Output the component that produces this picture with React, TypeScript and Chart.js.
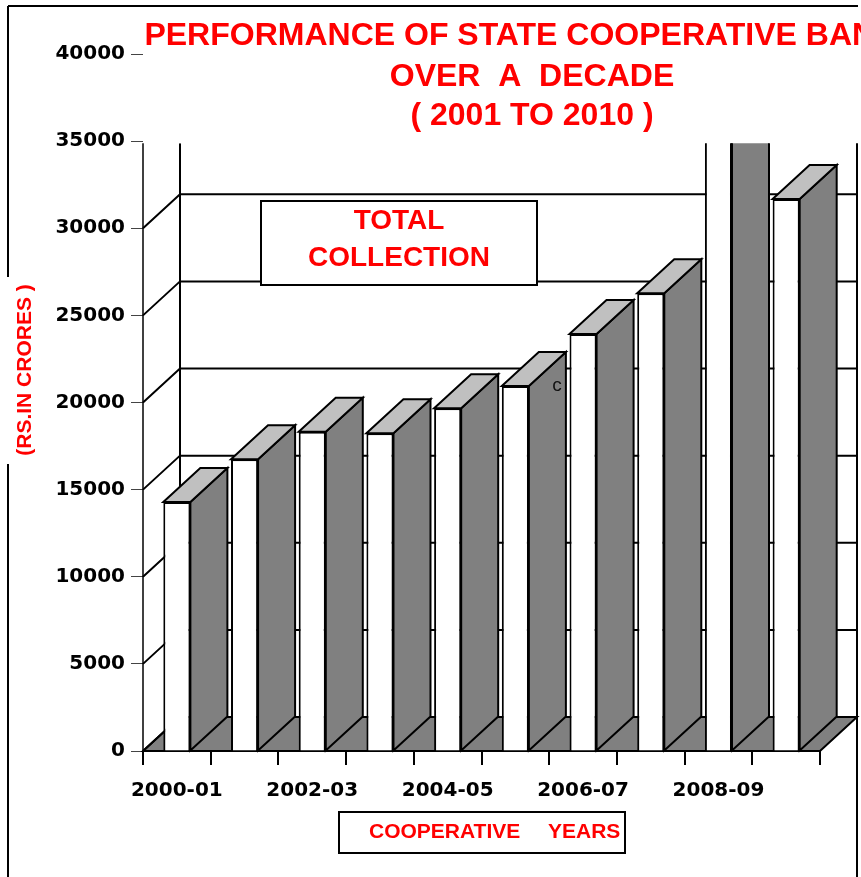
import React, { useEffect, useRef } from 'react';
import { Chart, registerables } from 'chart.js';

Chart.register(...registerables);

const YEARS = ['2000-01', '2001-02', '2002-03', '2003-04', '2004-05', '2005-06', '2006-07', '2007-08', '2008-09', '2009-10'];
const TOTAL_COLLECTION = [14290, 16740, 18325, 18230, 19665, 20950, 23930, 26265, 38900, 31680];
const Y_MIN = 0;
const Y_MAX = 40000;
const Y_STEP = 5000;
const WALL_TOP_VALUE = 35000;

const TITLE_LINES = ['PERFORMANCE OF STATE COOPERATIVE BANKS', 'OVER  A  DECADE', '( 2001 TO 2010 )'];
const BOX_LINES = ['TOTAL', 'COLLECTION'];
const Y_TITLE = '(RS.IN CRORES )';
const X_TITLE_WORDS = ['COOPERATIVE', 'YEARS'];
const STRAY_MARK = 'c';

const DX = 37;
const DY = 34;
const ARIAL = "'Liberation Sans', Arial, sans-serif";
const WIDE = "'DejaVu Sans', sans-serif";
const RED = '#FF0000';

const threeD = {
  id: 'threeD',
  beforeDatasetsDraw(chart: any) {
    const { ctx, chartArea: a, scales } = chart;
    const y = scales.y;
    const top = y.getPixelForValue(WALL_TOP_VALUE) + 2;
    const b = y.getPixelForValue(0);
    ctx.save();
    // frame
    ctx.strokeStyle = '#000';
    ctx.lineWidth = 2;
    ctx.beginPath();
    ctx.moveTo(8, 6);
    ctx.lineTo(a.right + DX + 1, 6);
    ctx.moveTo(8, 6);
    ctx.lineTo(8, 277);
    ctx.moveTo(8, 464);
    ctx.lineTo(8, chart.height);
    ctx.moveTo(a.right + DX, top);
    ctx.lineTo(a.right + DX, chart.height);
    ctx.stroke();

    ctx.beginPath();
    ctx.rect(0, top, chart.width, chart.height - top);
    ctx.clip();
    // floor
    ctx.beginPath();
    ctx.moveTo(a.left, b);
    ctx.lineTo(a.right, b);
    ctx.lineTo(a.right + DX, b - DY);
    ctx.lineTo(a.left + DX, b - DY);
    ctx.closePath();
    ctx.fillStyle = '#808080';
    ctx.fill();
    ctx.stroke();
    // wall grid
    ctx.beginPath();
    y.ticks.forEach((t: any) => {
      const py = y.getPixelForValue(t.value);
      ctx.moveTo(a.left, py);
      ctx.lineTo(a.left + DX, py - DY);
      ctx.lineTo(a.right + DX, py - DY);
    });
    ctx.moveTo(a.left + DX, top);
    ctx.lineTo(a.left + DX, b - DY);
    ctx.stroke();
    ctx.lineWidth = 1.5;
    ctx.beginPath();
    ctx.moveTo(a.left, top - 2);
    ctx.lineTo(a.left, b);
    ctx.stroke();
    ctx.restore();
  },
  beforeDatasetDraw(chart: any) {
    const { ctx, scales } = chart;
    const top = scales.y.getPixelForValue(WALL_TOP_VALUE) + 2;
    ctx.save();
    ctx.beginPath();
    ctx.rect(0, top, chart.width, chart.height - top);
    ctx.clip();
  },
  afterDatasetDraw(chart: any) {
    chart.ctx.restore();
  },
  afterDatasetsDraw(chart: any) {
    const { ctx, scales } = chart;
    const top = scales.y.getPixelForValue(WALL_TOP_VALUE) + 2;
    ctx.save();
    ctx.beginPath();
    ctx.rect(0, top, chart.width, chart.height - top);
    ctx.clip();
    ctx.strokeStyle = '#000';
    ctx.lineWidth = 2;
    ctx.lineJoin = 'miter';
    const meta = chart.getDatasetMeta(0);
    meta.data.forEach((bar: any) => {
      const { x, y: ty, base, width } = bar.getProps(['x', 'y', 'base', 'width'], true);
      const l = x - width / 2;
      const r = x + width / 2;
      ctx.beginPath();
      ctx.moveTo(r, base);
      ctx.lineTo(r, ty);
      ctx.lineTo(r + DX, ty - DY);
      ctx.lineTo(r + DX, base - DY);
      ctx.closePath();
      ctx.fillStyle = '#808080';
      ctx.fill();
      ctx.stroke();
      ctx.beginPath();
      ctx.moveTo(l, ty);
      ctx.lineTo(l + DX, ty - DY);
      ctx.lineTo(r + DX, ty - DY);
      ctx.lineTo(r, ty);
      ctx.closePath();
      ctx.fillStyle = '#C0C0C0';
      ctx.fill();
      ctx.stroke();
    });
    ctx.restore();
  },
  afterDraw(chart: any) {
    const { ctx } = chart;
    ctx.save();
    // title
    ctx.fillStyle = RED;
    ctx.textAlign = 'center';
    ctx.textBaseline = 'alphabetic';
    ctx.font = `bold 32px ${ARIAL}`;
    const baselines = [45, 86, 125];
    TITLE_LINES.forEach((t, i) => ctx.fillText(t, 532, baselines[i]));

    // TOTAL COLLECTION box
    ctx.fillStyle = '#fff';
    ctx.fillRect(261, 201, 276, 84);
    ctx.strokeStyle = '#000';
    ctx.lineWidth = 2;
    ctx.strokeRect(261, 201, 276, 84);
    ctx.fillStyle = RED;
    ctx.font = `bold 28px ${ARIAL}`;
    ctx.fillText(BOX_LINES[0], 399, 229);
    ctx.fillText(BOX_LINES[1], 399, 266);

    // x title box
    ctx.fillStyle = '#fff';
    ctx.fillRect(339, 812, 286, 41);
    ctx.strokeRect(339, 812, 286, 41);
    ctx.fillStyle = RED;
    ctx.font = `bold 21px ${ARIAL}`;
    ctx.textAlign = 'left';
    ctx.fillText(X_TITLE_WORDS[0], 369, 838);
    ctx.fillText(X_TITLE_WORDS[1], 548, 838);

    // y title
    ctx.save();
    ctx.translate(25, 370);
    ctx.rotate(-Math.PI / 2);
    ctx.textAlign = 'center';
    ctx.textBaseline = 'middle';
    ctx.font = `bold 21px ${ARIAL}`;
    ctx.fillText(Y_TITLE, 0, 0);
    ctx.restore();

    // stray mark
    ctx.fillStyle = '#111';
    ctx.textAlign = 'center';
    ctx.textBaseline = 'alphabetic';
    ctx.font = `19px ${ARIAL}`;
    ctx.fillText(STRAY_MARK, 557, 391);
    ctx.restore();
  },
};

export default function App() {
  const ref = useRef<HTMLCanvasElement | null>(null);
  useEffect(() => {
    document.body.style.margin = '0';
    document.body.style.overflow = 'hidden';
    const canvas = ref.current;
    if (!canvas) return;
    const chart = new Chart(canvas, {
      type: 'bar',
      data: {
        labels: YEARS,
        datasets: [
          {
            data: TOTAL_COLLECTION,
            backgroundColor: '#FFFFFF',
            borderColor: '#000000',
            borderWidth: 2,
            barPercentage: 0.4,
            categoryPercentage: 1,
          },
        ],
      },
      options: {
        responsive: false,
        animation: false,
        devicePixelRatio: 1,
        layout: { padding: { left: 0, top: 54, right: 41, bottom: 0 } },
        plugins: { legend: { display: false }, tooltip: { enabled: false }, title: { display: false } },
        scales: {
          x: {
            type: 'category',
            border: { display: false },
            grid: { offset: true, drawOnChartArea: false, drawTicks: true, tickLength: 14, color: '#000', lineWidth: 2 },
            ticks: {
              autoSkip: false,
              maxRotation: 0,
              minRotation: 0,
              padding: 14,
              color: '#000',
              font: { family: WIDE, size: 20, weight: 'bold' },
              callback: (_v: any, i: number) => (i % 2 === 0 ? YEARS[i] : ''),
            },
            afterFit: (s: any) => {
              s.height = 126;
            },
          },
          y: {
            min: Y_MIN,
            max: Y_MAX,
            border: { display: false },
            grid: { drawOnChartArea: false, drawTicks: true, tickLength: 12, color: '#444', lineWidth: 1 },
            ticks: {
              stepSize: Y_STEP,
              padding: 6,
              color: '#000',
              font: { family: WIDE, size: 20, weight: 'bold' },
              callback: (v: any) => String(v),
            },
            afterFit: (s: any) => {
              s.width = 143;
            },
          },
        },
      },
      plugins: [threeD],
    });
    return () => chart.destroy();
  }, []);
  return <canvas ref={ref} width={861} height={877} style={{ display: 'block' }} />;
}
